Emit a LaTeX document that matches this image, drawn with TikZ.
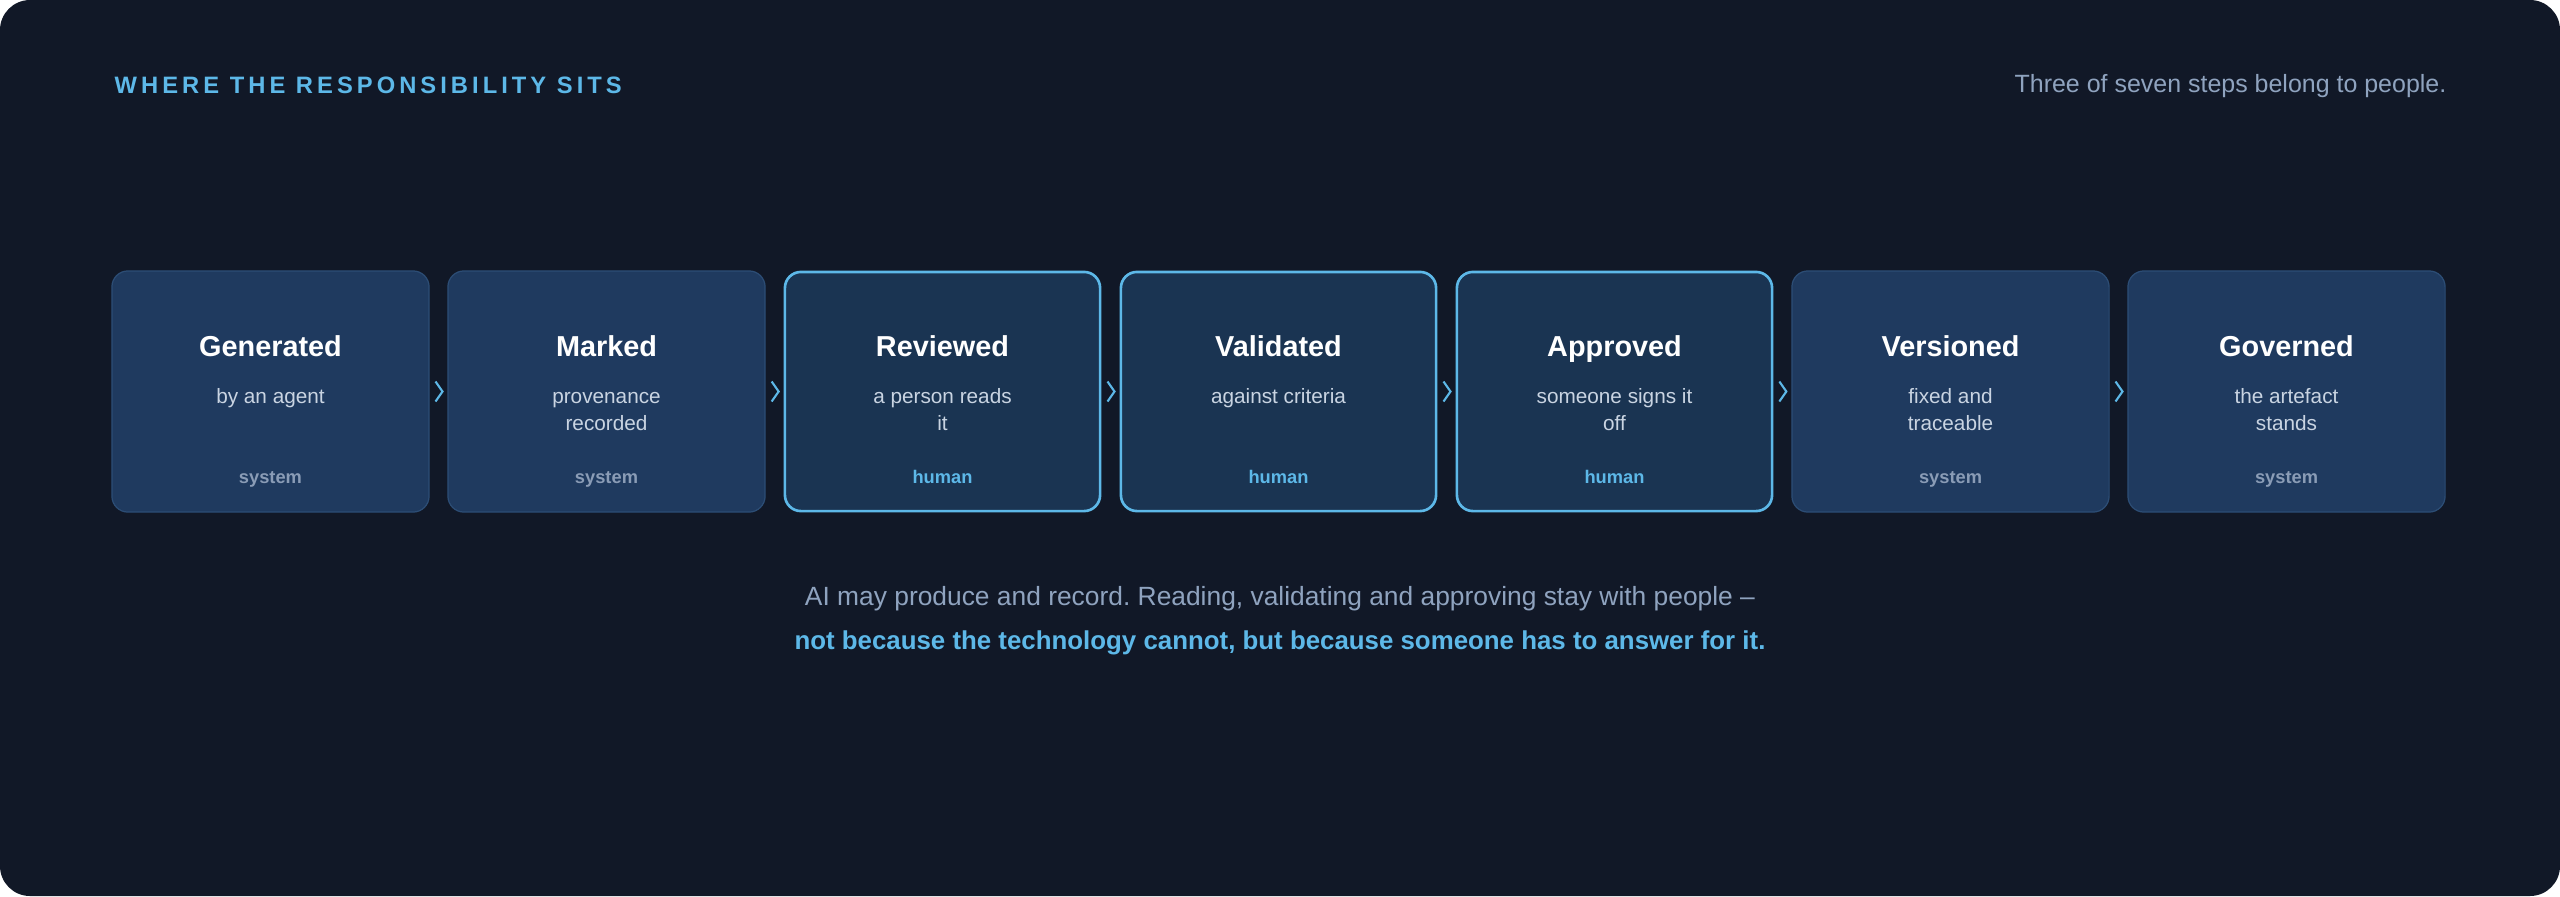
\documentclass[tikz,border=0pt]{standalone}
\usepackage{fontspec}
\setmainfont{Liberation Sans}
\newfontfamily\trackfont[LetterSpace=17]{Liberation Sans}
\usepackage{tikz}
\usepackage{xcolor}
\usetikzlibrary{calc}
\frenchspacing

\definecolor{bgnavy}{HTML}{111827}
\definecolor{sysfill}{HTML}{1F3A5F}
\definecolor{sysline}{HTML}{2C4D75}
\definecolor{humfill}{HTML}{1A3452}
\definecolor{accent}{HTML}{5DB8E8}
\definecolor{notegrey}{HTML}{C9D4E2}
\definecolor{rolegrey}{HTML}{8A9CB6}
\definecolor{asidegrey}{HTML}{8FA3BF}

\tikzset{
  sysbox/.style={draw=sysline, line width=0.35pt, fill=sysfill,
    rounded corners=0.16cm, minimum width=3.17cm, minimum height=2.41cm},
  humbox/.style={draw=accent, line width=0.75pt, fill=humfill,
    rounded corners=0.16cm, minimum width=3.15cm, minimum height=2.39cm},
  steptitle/.style={anchor=base, inner sep=0, text=white,
    font=\bfseries\fontsize{8.2}{10}\selectfont},
  stepnote/.style={anchor=base, inner sep=0, text=notegrey,
    font=\fontsize{5.9}{7}\selectfont},
  sysrole/.style={anchor=base, inner sep=0, text=rolegrey,
    font=\bfseries\fontsize{5.2}{6}\selectfont},
  humrole/.style={sysrole, text=accent},
  chev/.style={draw=accent, line width=0.6pt}
}

\begin{document}
\begin{tikzpicture}[x=0.01cm, y=-0.01cm]
  % Backdrop
  \fill[white] (0, 0) rectangle (2560, 896);
  \fill[bgnavy, rounded corners=0.3cm] (0, 0) rectangle (2560, 896);

  % Header
  \node[anchor=base west, inner sep=0, text=accent,
    font=\trackfont\bfseries\fontsize{6.75}{8}\selectfont]
    (head) at (114, 93) {WHERE THE RESPONSIBILITY SITS};
  \node[anchor=base east, inner sep=0, text=asidegrey,
    font=\fontsize{7.1}{8}\selectfont]
    (aside) at (2447, 92.7) {Three of seven steps belong to people.};

  % Step boxes
  \node[sysbox] (gen)  at (270.5, 391.5) {};
  \node[sysbox] (mark) at (606.5, 391.5) {};
  \node[humbox] (rev)  at (942.5, 391.5) {};
  \node[humbox] (val)  at (1278.5, 391.5) {};
  \node[humbox] (appr) at (1614.5, 391.5) {};
  \node[sysbox] (vers) at (1950.5, 391.5) {};
  \node[sysbox] (gov)  at (2286.5, 391.5) {};

  % Chevrons between steps
  \draw[chev] ($(gen.east)!0.5!(mark.west)+(-3,-10)$) -- ++(7,10) -- ++(-7,10);
  \draw[chev] ($(mark.east)!0.5!(rev.west)+(-3,-10)$) -- ++(7,10) -- ++(-7,10);
  \draw[chev] ($(rev.east)!0.5!(val.west)+(-3,-10)$) -- ++(7,10) -- ++(-7,10);
  \draw[chev] ($(val.east)!0.5!(appr.west)+(-3,-10)$) -- ++(7,10) -- ++(-7,10);
  \draw[chev] ($(appr.east)!0.5!(vers.west)+(-3,-10)$) -- ++(7,10) -- ++(-7,10);
  \draw[chev] ($(vers.east)!0.5!(gov.west)+(-3,-10)$) -- ++(7,10) -- ++(-7,10);

  % Titles
  \node[steptitle] (gen-t)  at (270.5, 356) {Generated};
  \node[steptitle] (mark-t) at (606.5, 356) {Marked};
  \node[steptitle] (rev-t)  at (942.5, 356) {Reviewed};
  \node[steptitle] (val-t)  at (1278.5, 356) {Validated};
  \node[steptitle] (appr-t) at (1614.5, 356) {Approved};
  \node[steptitle] (vers-t) at (1950.5, 356) {Versioned};
  \node[steptitle] (gov-t)  at (2286.5, 356) {Governed};

  % Notes
  \node[stepnote] (gen-n)   at (270.5, 403) {by an agent};
  \node[stepnote] (mark-n)  at (606.5, 403) {provenance};
  \node[stepnote] (mark-n2) at (606.5, 430) {recorded};
  \node[stepnote] (rev-n)   at (942.5, 403) {a person reads};
  \node[stepnote] (rev-n2)  at (942.5, 430) {it};
  \node[stepnote] (val-n)   at (1278.5, 403) {against criteria};
  \node[stepnote] (appr-n)  at (1614.5, 403) {someone signs it};
  \node[stepnote] (appr-n2) at (1614.5, 430) {off};
  \node[stepnote] (vers-n)  at (1950.5, 403) {fixed and};
  \node[stepnote] (vers-n2) at (1950.5, 430) {traceable};
  \node[stepnote] (gov-n)   at (2286.5, 403) {the artefact};
  \node[stepnote] (gov-n2)  at (2286.5, 430) {stands};

  % Who holds it
  \node[sysrole] (gen-r)  at (270.5, 483) {system};
  \node[sysrole] (mark-r) at (606.5, 483) {system};
  \node[humrole] (rev-r)  at (942.5, 483) {human};
  \node[humrole] (val-r)  at (1278.5, 483) {human};
  \node[humrole] (appr-r) at (1614.5, 483) {human};
  \node[sysrole] (vers-r) at (1950.5, 483) {system};
  \node[sysrole] (gov-r)  at (2286.5, 483) {system};

  % Closing lines
  \node[anchor=base, inner sep=0, text=asidegrey,
    font=\fontsize{7.5}{9}\selectfont] (close1) at (1280, 605)
    {AI may produce and record. Reading, validating and approving stay with people –};
  \node[anchor=base, inner sep=0, text=accent,
    font=\bfseries\fontsize{7.35}{9}\selectfont] (close2) at (1280, 649)
    {not because the technology cannot, but because someone has to answer for it.};
\end{tikzpicture}
\end{document}
